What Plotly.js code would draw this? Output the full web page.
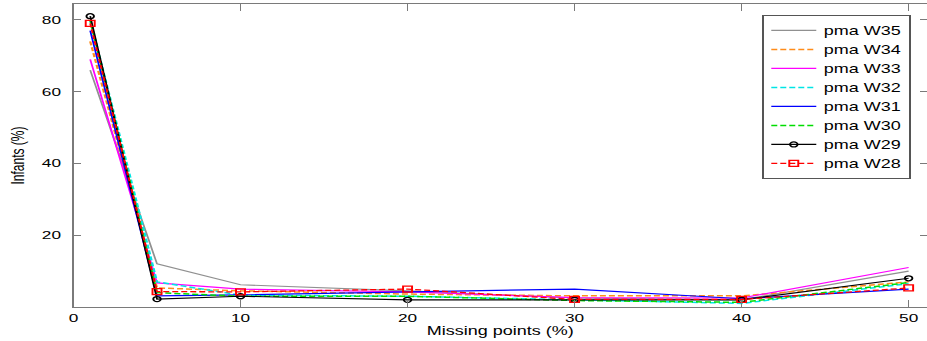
<!DOCTYPE html>
<html>
<head>
<meta charset="utf-8">
<script src="https://cdn.plot.ly/plotly-3.0.1.min.js"></script>
<style>
  html, body { margin: 0; padding: 0; background: #fff; overflow: hidden; }
  #chart { width: 618px; height: 341px; transform: scale(1.5, 1); transform-origin: 0 0; }
</style>
</head>
<body>
<div id="chart"></div>
<script>
// Missing points (%)
const missing = [1, 5, 10, 20, 30, 40, 50];
// Infants (%) per post-menstrual age
const w35 = [66, 12, 6.2, 4.5, 2.5, 2.0, 10];
const w34 = [74, 5.3, 4.5, 3.6, 3.1, 3.1, 7.0];
const w33 = [69, 6.7, 5.0, 4.2, 2.6, 2.5, 11];
const w32 = [80, 7.0, 3.3, 3.0, 2.0, 1.0, 6.5];
const w31 = [77, 3.1, 3.4, 4.2, 5.0, 2.3, 5.0];
const w30 = [80, 4.0, 3.0, 3.0, 1.8, 1.3, 6.8];
const w29 = [81, 2.2, 3.0, 2.0, 2.0, 2.0, 8.0];
const w28 = [79, 4.3, 4.2, 5.0, 2.1, 2.1, 5.3];
const seriesNames = ['pma W35','pma W34','pma W33','pma W32','pma W31','pma W30','pma W29','pma W28'];
const xTicks = [0, 10, 20, 30, 40, 50];
const yTicks = [20, 40, 60, 80];

const values = [w35, w34, w33, w32, w31, w30, w29, w28];
const styles = [
  {color: '#909090', dash: 'solid', width: 1.2},
  {color: '#ff8c1a', dash: '4px,2px', width: 1.5},
  {color: '#ff00ff', dash: 'solid', width: 1.2},
  {color: '#00e5e5', dash: '4px,2px', width: 1.5},
  {color: '#0000ff', dash: 'solid', width: 1.2},
  {color: '#00dd00', dash: '4px,2px', width: 1.5},
  {color: '#000000', dash: 'solid', width: 1.2, marker: {symbol: 'circle-open', size: 5, color: '#000', line: {width: 1.3, color: '#000'}}},
  {color: '#ff0000', dash: '4px,2px', width: 1.3, marker: {symbol: 'square-open', size: 6, color: '#f00', line: {width: 1.3, color: '#f00'}}}
];

const traces = values.map((v, i) => {
  const s = styles[i];
  const t = {
    x: missing, y: v, name: seriesNames[i], type: 'scatter',
    mode: s.marker ? 'lines+markers' : 'lines',
    line: {color: s.color, width: s.width, dash: s.dash}
  };
  if (s.marker) t.marker = s.marker;
  return t;
});
const font = {family: 'Liberation Sans, Arial, sans-serif', size: 12, color: '#000'};
const axisCommon = {
  showline: true, linecolor: '#7a7a7a', linewidth: 1, mirror: 'ticks',
  ticks: 'inside', tickcolor: '#7a7a7a', tickwidth: 1,
  showgrid: false, zeroline: false,
  tickfont: {family: 'Liberation Sans, Arial, sans-serif', size: 11.5, color: '#000'}
};
const layout = {
  width: 618, height: 341,
  margin: {l: 49, r: 0, t: 4, b: 34},
  paper_bgcolor: '#fff', plot_bgcolor: '#fff',
  font: font,
  showlegend: true,
  legend: {
    x: 0.981, y: 0.964, xanchor: 'right', yanchor: 'top',
    bgcolor: '#fff', bordercolor: '#555', borderwidth: 1,
    font: {family: 'Liberation Sans, Arial, sans-serif', size: 12, color: '#000'},
    itemwidth: 30, tracegroupgap: 0
  },
  xaxis: Object.assign({}, axisCommon, {
    range: [0, 51.1], tickvals: xTicks, ticklen: 7,
    title: {text: 'Missing points (%)', font: font, standoff: 1}
  }),
  yaxis: Object.assign({}, axisCommon, {
    range: [0, 84.4], tickvals: yTicks, ticklen: 5, ticklabelstandoff: 5,
    title: {text: 'Infants (%)', font: font, standoff: 8}
  })
};
Plotly.newPlot('chart', traces, layout, {staticPlot: true, displayModeBar: false});
</script>
</body>
</html>
